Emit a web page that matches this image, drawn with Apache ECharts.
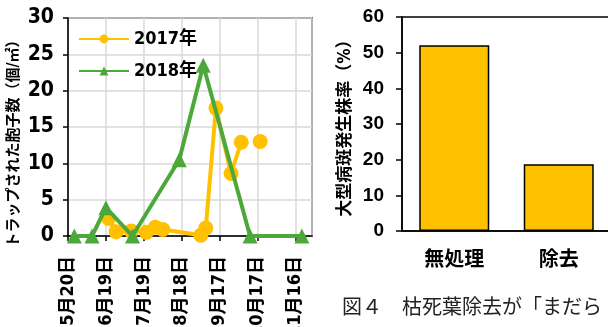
<!DOCTYPE html>
<html>
<head>
<meta charset="utf-8">
<script src="https://cdn.jsdelivr.net/npm/echarts@6/dist/echarts.min.js"></script>
<style>
  html, body { margin: 0; padding: 0; background: #fff; }
  #chart { width: 608px; height: 327px; }
</style>
</head>
<body>
<div id="chart"></div>
<script>
// left chart: spores trapped, x in days from startDate
const startDate = "5/20";
const endDate = "11/29";
const tickStepDays = 30;
const xTickLabels = ["5月20日", "6月19日", "7月19日", "8月18日", "9月17日", "10月17日", "11月16日"];
const yTicksLeft = [0, 5, 10, 15, 20, 25, 30];

const dates2017 = ["6/21", "6/27", "7/9", "7/21", "7/28", "8/3", "9/2", "9/6", "9/14", "9/26", "10/4", "10/12", "10/19"];
const spores2017 = [2.4, 0.6, 0.7, 0.5, 1.2, 0.9, 0.1, 1.1, 17.6, 8.6, 12.9, null, 13.0];

const dates2018 = ["5/25", "6/8", "6/19", "7/10", "8/16", "9/4", "10/11", "11/21"];
const spores2018 = [0, 0, 3.9, 0, 10.5, 23.5, 0, 0];

// right chart: rate of plants with large lesions (%)
const barCategories = ["無処理", "除去"];
const barValues = [52.1, 18.7];

const leftTitle = "トラップされた胞子数（個/㎡）";
const rightTitle = "大型病斑発生株率（%）";
const caption = "図４　枯死葉除去が「まだら";

const narrowFont = "'Liberation Sans Narrow','Arial Narrow','DejaVu Sans Condensed','Noto Sans CJK JP',sans-serif";
const boldFont = "'Liberation Sans',Arial,'Noto Sans CJK JP',sans-serif";
const orange = "#ffc000";
const green = "#4ca83a";

function dayOffset(md) {
  const [m, d] = md.split("/").map(Number);
  const [m0, d0] = startDate.split("/").map(Number);
  return (Date.UTC(2001, m - 1, d) - Date.UTC(2001, m0 - 1, d0)) / 86400000;
}

function pairs(dates, vals) {
  return dates.map((d, i) => [dayOffset(d), vals[i]]);
}

const chart = echarts.init(document.getElementById("chart"));

const option = {
  animation: false,
  grid: [
    { left: 68, top: 18, width: 244, height: 218, outerBoundsMode: "none", show: true, borderColor: "#000", borderWidth: 1.5 },
    { left: 402, top: 17, width: 209, height: 214, outerBoundsMode: "none", show: true, borderColor: "#000", borderWidth: 1.5 }
  ],
  legend: {
    orient: "vertical",
    left: 78,
    top: 30,
    padding: 0,
    itemWidth: 50,
    itemHeight: 11,
    itemGap: 14,
    data: ["2017年", "2018年"],
    textStyle: { fontFamily: narrowFont, fontWeight: "bold", fontSize: 18, color: "#000" }
  },
  xAxis: [
    {
      type: "value",
      gridIndex: 0,
      min: 0,
      max: dayOffset(endDate),
      interval: tickStepDays,
      axisLine: { lineStyle: { color: "#000", width: 1.5 } },
      axisTick: { show: true, length: 5, lineStyle: { color: "#000", width: 1.5 } },
      splitLine: { show: true, lineStyle: { color: "#d9d9d9", width: 1.5 } },
      axisLabel: {
        rotate: 90,
        margin: 20,
        showMaxLabel: false,
        fontFamily: narrowFont,
        fontWeight: "bold",
        fontSize: 18,
        color: "#000",
        formatter: (v) => (v % tickStepDays === 0 ? xTickLabels[v / tickStepDays] || "" : "")
      }
    },
    {
      type: "category",
      gridIndex: 1,
      data: barCategories,
      axisLine: { lineStyle: { color: "#000", width: 1.5 } },
      axisTick: { show: false },
      axisLabel: {
        margin: 19,
        fontFamily: boldFont,
        fontWeight: "bold",
        fontSize: 20,
        color: "#000"
      }
    }
  ],
  yAxis: [
    {
      type: "value",
      gridIndex: 0,
      min: yTicksLeft[0],
      max: yTicksLeft[yTicksLeft.length - 1],
      interval: 5,
      axisLine: { show: true, lineStyle: { color: "#000", width: 1.5 } },
      axisTick: { show: true, length: 5, lineStyle: { color: "#000", width: 1.5 } },
      splitLine: { show: true, lineStyle: { color: "#d9d9d9", width: 1.5 } },
      axisLabel: { margin: 14, fontFamily: narrowFont, fontWeight: "bold", fontSize: 21, color: "#000" }
    },
    {
      type: "value",
      gridIndex: 1,
      min: 0,
      max: 60,
      interval: 10,
      name: rightTitle,
      nameLocation: "middle",
      nameGap: 48,
      nameTextStyle: { fontFamily: narrowFont, fontWeight: "bold", fontSize: 17, color: "#000" },
      axisLine: { show: true, lineStyle: { color: "#000", width: 1.5 } },
      axisTick: { show: true, length: 6, lineStyle: { color: "#000", width: 1.5 } },
      splitLine: { show: false },
      axisLabel: { margin: 18, fontFamily: boldFont, fontWeight: "bold", fontSize: 19, color: "#000" }
    }
  ],
  series: [
    {
      name: "2017年",
      type: "line",
      xAxisIndex: 0,
      yAxisIndex: 0,
      data: pairs(dates2017, spores2017),
      symbol: "circle",
      symbolSize: 15,
      connectNulls: false,
      lineStyle: { color: orange, width: 4 },
      itemStyle: { color: orange },
      z: 2
    },
    {
      name: "2018年",
      type: "line",
      xAxisIndex: 0,
      yAxisIndex: 0,
      data: pairs(dates2018, spores2018),
      symbol: "triangle",
      symbolSize: 15,
      lineStyle: { color: green, width: 4 },
      itemStyle: { color: green },
      z: 3
    },
    {
      type: "bar",
      xAxisIndex: 1,
      yAxisIndex: 1,
      data: barValues,
      barWidth: 70,
      itemStyle: { color: orange, borderColor: "#000", borderWidth: 1.5 }
    }
  ],
  graphic: [
    {
      // left y-axis title, sits a bit below the plot middle in the original
      type: "text",
      x: 14,
      y: 140,
      rotation: Math.PI / 2,
      style: {
        text: leftTitle,
        font: "bold 15px " + narrowFont,
        fill: "#000",
        align: "center",
        verticalAlign: "middle"
      }
    },
    {
      type: "text",
      left: 342,
      top: 296,
      style: {
        text: caption,
        font: "20px 'Noto Sans CJK JP'",
        fill: "#222"
      }
    }
  ]
};

chart.setOption(option);
</script>
</body>
</html>
